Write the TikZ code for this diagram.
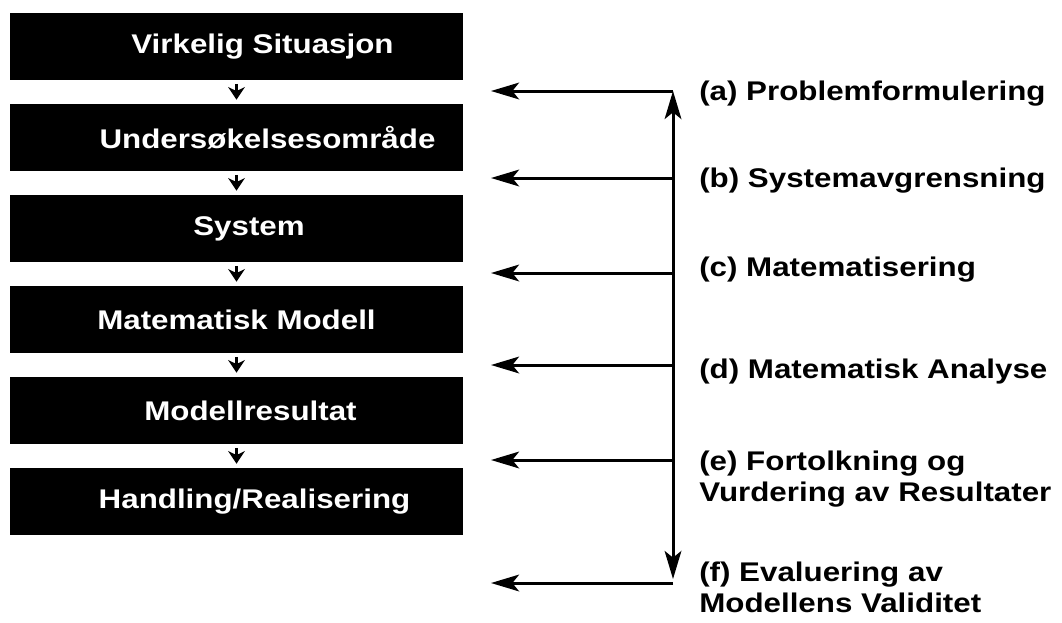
\documentclass[tikz,border=0pt]{standalone}
\usepackage{fontspec}
\setmainfont{Liberation Sans}[FakeStretch=1.16]
\usetikzlibrary{arrows.meta}
\tikzstyle{stage} = [rectangle, minimum width=339.75pt, minimum height=50.6pt, inner sep=0pt, fill=black, text=white, font=\bfseries\fontsize{20.25}{23.25}\selectfont]
\tikzstyle{phase} = [anchor=north west, inner sep=0pt, align=left, font=\bfseries\fontsize{20.25}{23.25}\selectfont]
\tikzstyle{flow} = [line width=2pt, -{Stealth[length=9.5pt,width=12.5pt,inset=3pt]}, shorten <=2.25pt, shorten >=3pt]
\tikzstyle{feedback} = [line width=2.25pt, -{Stealth[length=21pt,width=12.5pt,inset=5pt]}]

\begin{document}
\begin{tikzpicture}[x=0.75pt, y=-0.75pt, node distance=68.25pt]
    \useasboundingbox (0,0) rectangle (1062,622);

    % modelling stages
    \node (real) [stage] at (236.5,46.75) {\hspace*{39pt}Virkelig Situasjon};
    \node (area) [stage, below of=real] {\hspace*{46.5pt}Undersøkelsesområde};
    \node (sys) [stage, below of=area] {\hspace*{18.75pt}System};
    \node (model) [stage, below of=sys] {Matematisk Modell};
    \node (result) [stage, below of=model] {\hspace*{21pt}Modellresultat};
    \node (act) [stage, below of=result] {\hspace*{27pt}Handling/Realisering};

    \draw [flow] (real) -- (area);
    \draw [flow] (area) -- (sys);
    \draw [flow] (sys) -- (model);
    \draw [flow] (model) -- (result);
    \draw [flow] (result) -- (act);

    % feedback spine
    \coordinate (top) at (673,91);
    \coordinate (bottom) at (673,579);
    \coordinate (sa) at (673,91);   \coordinate (ta) at (491,91);
    \coordinate (sb) at (673,178);  \coordinate (tb) at (491,178);
    \coordinate (sc) at (673,273);  \coordinate (tc) at (491,273);
    \coordinate (sd) at (673,365);  \coordinate (td) at (491,365);
    \coordinate (se) at (673,460);  \coordinate (te) at (491,460);
    \coordinate (sf) at (673,583);  \coordinate (tf) at (491,583);

    \draw [feedback, {Stealth[length=21pt,width=12.5pt,inset=5pt]}-{Stealth[length=21pt,width=12.5pt,inset=5pt]}] (top) -- (bottom);
    \draw [feedback] (sa) -- (ta);
    \draw [feedback] (sb) -- (tb);
    \draw [feedback] (sc) -- (tc);
    \draw [feedback] (sd) -- (td);
    \draw [feedback] (se) -- (te);
    \draw [feedback] (sf) -- (tf);

    % phase labels
    \node (pa) [phase] at (699,81) {(a) Problemformulering};
    \node (pb) [phase] at (699,168) {(b) Systemavgrensning};
    \node (pc) [phase] at (699,257) {(c) Matematisering};
    \node (pd) [phase] at (699,359) {(d) Matematisk Analyse};
    \node (pe) [phase] at (699,451) {(e) Fortolkning og\\Vurdering av Resultater};
    \node (pf) [phase] at (699,562) {(f) Evaluering av\\Modellens Validitet};
\end{tikzpicture}
\end{document}
